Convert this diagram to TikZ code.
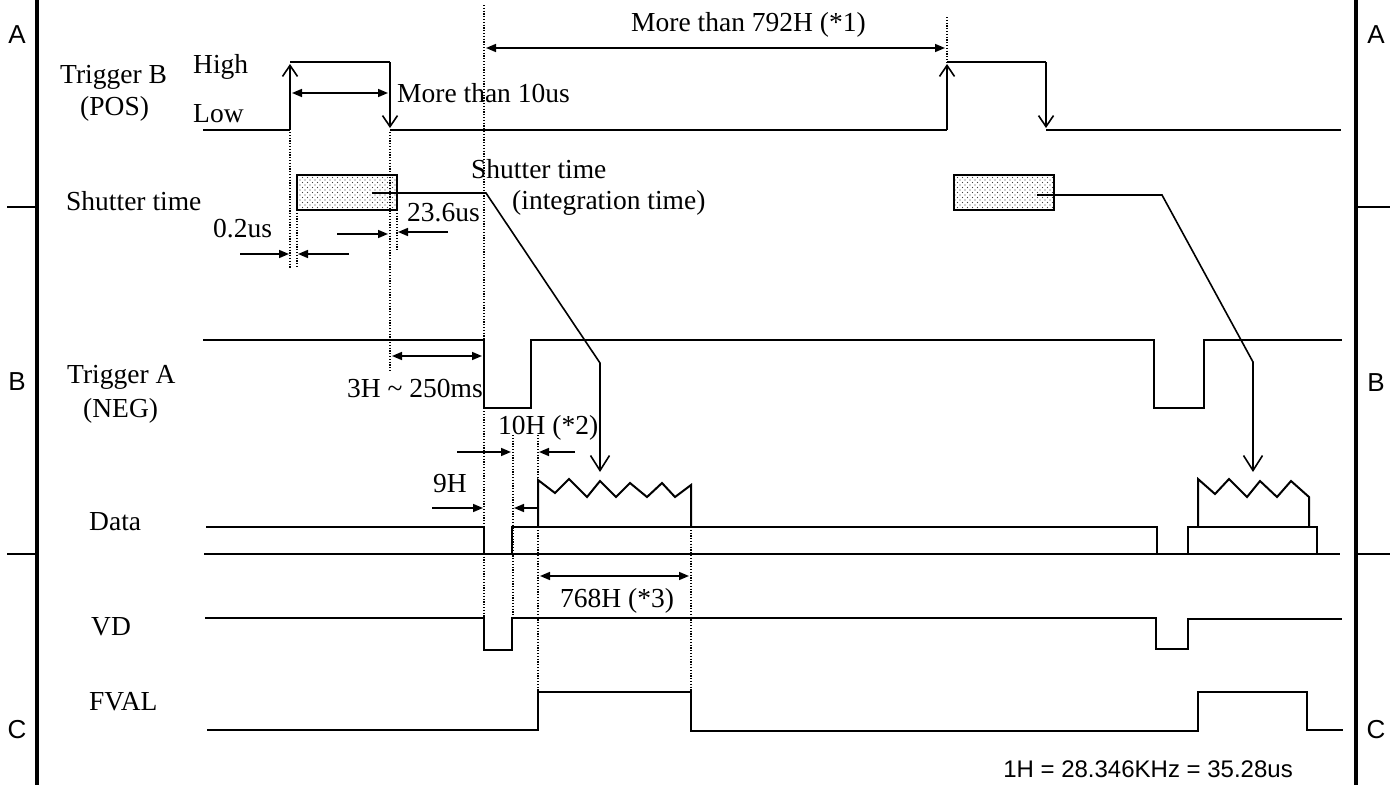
\documentclass[tikz,border=0pt]{standalone}
\usepackage{fontspec}
\setmainfont{Liberation Serif}
\newfontfamily\sansfam{Liberation Sans}
\usetikzlibrary{arrows.meta,patterns.meta}
\begin{document}
\begin{tikzpicture}[x=1pt,y=-1pt,
  sig/.style={line width=2pt, line join=miter},
  thinl/.style={line width=1.6pt},
  border/.style={line width=4.5pt},
  tickm/.style={line width=1.5pt},
  dotv/.style={line width=1.2pt, dash pattern=on 1.2pt off 1.6pt},
  dim/.style={line width=1.6pt,{Triangle[length=10pt,width=8pt]}-{Triangle[length=10pt,width=8pt]}},
  dimr/.style={line width=1.6pt,-{Triangle[length=10pt,width=8pt]}},
  edgearr/.style={line width=2pt,-{Straight Barb[length=11pt,width=15pt,line width=1.6pt]}},
  shutarr/.style={line width=1.6pt,-{Straight Barb[length=15pt,width=19pt,line width=1.6pt]}},
  lbl/.style={font=\fontsize{27.5}{30}\selectfont, inner sep=0pt, anchor=base west},
  sl/.style={font=\sansfam\fontsize{26}{28}\selectfont, inner sep=0pt, anchor=base},
  shutbox/.style={line width=2pt}
]
\useasboundingbox (0,0) rectangle (1400,785);
\fill[white] (0,0) rectangle (1400,785);

% borders
\draw[border] (37,0) -- (37,785);
\draw[border] (1356,0) -- (1356,785);
\draw[tickm] (7,207) -- (37,207);
\draw[tickm] (7,554) -- (37,554);
\draw[tickm] (1356,207) -- (1390,207);
\draw[tickm] (1356,554) -- (1390,554);
\node[sl] (lA) at (17,43) {A};
\node[sl] (rA) at (1376,43) {A};
\node[sl] (lB) at (17,390) {B};
\node[sl] (rB) at (1376,391) {B};
\node[sl] (lC) at (17,738) {C};
\node[sl] (rC) at (1376,738) {C};

% dotted guides
\draw[dotv] (290,132) -- (290,268);
\draw[dotv] (297,210) -- (297,268);
\draw[dotv] (390,132) -- (390,372);
\draw[dotv] (397,210) -- (397,250);
\draw[dotv] (484,5) -- (484,618);
\draw[dotv] (947,17) -- (947,62);
\draw[dotv] (513,435) -- (513,618);
\draw[dotv] (538,435) -- (538,480);
\draw[dotv] (538,527) -- (538,692);
\draw[dotv] (691,527) -- (691,692);

% Trigger B
\draw[sig] (203,130) -- (290,130);
\draw[edgearr] (290,130) -- (290,64);
\draw[sig] (290,62) -- (390,62);
\draw[edgearr] (390,62) -- (390,128);
\draw[sig] (390,130) -- (947,130);
\draw[edgearr] (947,130) -- (947,64);
\draw[sig] (947,62) -- (1046,62);
\draw[edgearr] (1046,62) -- (1046,128);
\draw[sig] (1046,130) -- (1341,130);

% shutter boxes
\foreach \bx in {297,954}{
  \fill[pattern={Dots[distance=5pt,radius=0.7pt]},pattern color=black!75] (\bx,175) rectangle ++(100,35);
  \fill[pattern={Dots[distance=5pt,radius=0.7pt,xshift=2.5pt,yshift=2.5pt]},pattern color=black!75] (\bx,175) rectangle ++(100,35);
  \draw[shutbox] (\bx,175) rectangle ++(100,35);
}
\draw[shutarr] (372,193) -- (486,193) -- (600,363) -- (600,472);
\draw[shutarr] (1037,195) -- (1162,195) -- (1253,362) -- (1253,472);

% Trigger A
\draw[sig] (203,340) -- (484,340) -- (484,408) -- (531,408) -- (531,340) -- (1154,340) -- (1154,408) -- (1204,408) -- (1204,340) -- (1342,340);

% Data
\draw[sig] (206,527) -- (484,527) -- (484,554);
\draw[sig] (512,554) -- (512,527) -- (1157,527) -- (1157,554);
\draw[sig] (1188,554) -- (1188,527) -- (1317,527) -- (1317,554);
\draw[sig] (204,554) -- (1340,554);
\draw[sig] (538,527) -- (538,480) -- (555,493) -- (569,479) -- (587,497) -- (600,481) -- (616,497) -- (630,483) -- (647,497) -- (662,483) -- (675,497) -- (691,485) -- (691,527);
\draw[sig] (1198,527) -- (1198,479) -- (1215,494) -- (1229,479) -- (1247,497) -- (1260,481) -- (1277,497) -- (1291,481) -- (1309,497) -- (1309,527);

% VD
\draw[sig] (205,618) -- (484,618) -- (484,650) -- (512,650) -- (512,618) -- (1156,618) -- (1156,649) -- (1188,649) -- (1188,619) -- (1342,619);

% FVAL
\draw[sig] (207,730) -- (538,730) -- (538,692) -- (691,692) -- (691,731) -- (1198,731) -- (1198,692) -- (1307,692) -- (1307,730) -- (1343,730);

% dimension arrows
\draw[dim] (292,93) -- (388,93);
\draw[dim] (486,48) -- (945,48);
\draw[dim] (392,356) -- (482,356);
\draw[dim] (540,576) -- (689,576);
\draw[dimr] (240,254) -- (289,254);
\draw[dimr] (349,254) -- (298,254);
\draw[dimr] (337,234) -- (388,234);
\draw[dimr] (448,232) -- (398,232);
\draw[dimr] (457,452) -- (511,452);
\draw[dimr] (575,452) -- (539,452);
\draw[dimr] (432,508) -- (483,508);
\draw[dimr] (537,508) -- (514,508);

% labels
\node[lbl] (tb) at (60,83) {Trigger B};
\node[lbl] (pos) at (80,115) {(POS)};
\node[lbl] (hi) at (193,73) {High};
\node[lbl] (lo) at (193,122) {Low};
\node[lbl] (m10) at (397,102) {More than 10us};
\node[lbl] (m792) at (631,31) {More than 792H (*1)};
\node[lbl] (st1) at (66,210) {Shutter time};
\node[lbl] (t02) at (213,237) {0.2us};
\node[lbl] (t236) at (407,221) {23.6us};
\node[lbl] (st2) at (471,178) {Shutter time};
\node[lbl] (integ) at (512,209) {(integration time)};
\node[lbl] (ta) at (67,383) {Trigger A};
\node[lbl] (neg) at (83,417) {(NEG)};
\node[lbl] (t3h) at (347,397) {3H \textasciitilde{} 250ms};
\node[lbl] (t10h) at (498,434) {10H (*2)};
\node[lbl] (t9h) at (433,492) {9H};
\node[lbl] (data) at (89,530) {Data};
\node[lbl] (vd) at (91,635) {VD};
\node[lbl] (fval) at (89,710) {FVAL};
\node[lbl] (t768) at (560,607) {768H (*3)};
\node[font=\sansfam\fontsize{24}{26}\selectfont, inner sep=0pt, anchor=base east] (note) at (1293,777) {1H = 28.346KHz = 35.28us};
\end{tikzpicture}
\end{document}
